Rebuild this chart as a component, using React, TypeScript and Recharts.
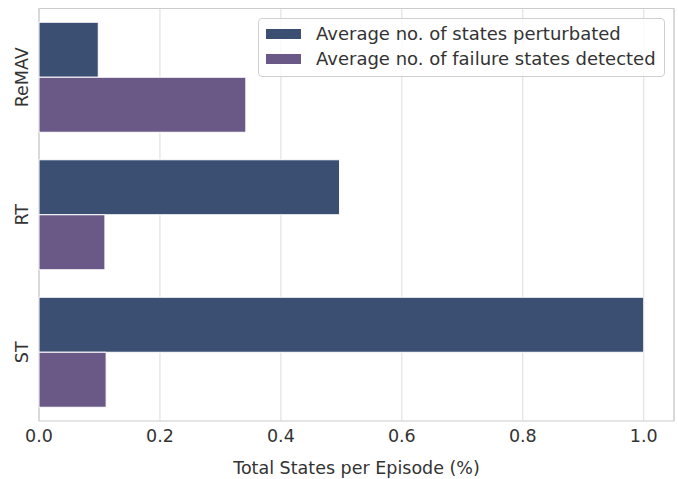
import React from 'react';
import { BarChart, Bar, XAxis, YAxis, CartesianGrid, ReferenceArea } from 'recharts';

const methods = ['ReMAV', 'RT', 'ST'];
const statesPerturbated = [0.098, 0.497, 1.0];
const failureStatesDetected = [0.342, 0.109, 0.111];
const xTicks = [0, 0.2, 0.4, 0.6, 0.8, 1.0];

const SERIES = [
  { key: 'perturbated', name: 'Average no. of states perturbated', color: '#3b4f73' },
  { key: 'failures', name: 'Average no. of failure states detected', color: '#6a5986' },
];

const FONT = '"DejaVu Sans", sans-serif';
const TEXT = '#333333';
const FS = 17.5;
const LEGEND_FS = 18;

const data = methods.map((m, i) => ({
  method: m,
  perturbated: statesPerturbated[i],
  failures: failureStatesDetected[i],
}));

const XTick = (props: any) => {
  const { x, y, payload } = props;
  return (
    <text x={x} y={y + 13} textAnchor="middle" fontSize={FS} fill={TEXT} fontFamily={FONT}>
      {Number(payload.value).toFixed(1)}
    </text>
  );
};

const YTick = (props: any) => {
  const { y, payload } = props;
  return (
    <text
      x={22}
      y={y}
      transform={`rotate(-90, 22, ${y})`}
      textAnchor="middle"
      dominantBaseline="central"
      fontSize={FS}
      fill={TEXT}
      fontFamily={FONT}
    >
      {payload.value}
    </text>
  );
};

// legend drawn outside the chart so it doesn't shrink the plot
const LegendBox = () => (
  <div
    style={{
      position: 'absolute',
      left: 258,
      top: 18,
      width: 407,
      height: 59,
      boxSizing: 'border-box',
      border: '1px solid #d0d0d0',
      borderRadius: 4,
      background: 'rgba(255,255,255,0.8)',
      padding: '2px 0 0 7px',
      fontFamily: FONT,
      fontSize: LEGEND_FS,
      color: TEXT,
    }}
  >
    {SERIES.map(s => (
      <div key={s.key} style={{ display: 'flex', alignItems: 'center', height: 25, whiteSpace: 'nowrap' }}>
        <span style={{ display: 'inline-block', width: 35, height: 10, background: s.color, marginRight: 15 }} />
        <span>{s.name}</span>
      </div>
    ))}
  </div>
);

export default function App() {
  return (
    <div style={{ position: 'relative', width: 678, height: 479, background: '#fff' }}>
      <style>{'body{margin:0}'}</style>
      <BarChart
        width={678}
        height={479}
        data={data}
        layout="vertical"
        margin={{ top: 8.5, right: 4, bottom: 0, left: 0 }}
        barCategoryGap="10%"
        barGap={0}
      >
        <CartesianGrid horizontal={false} stroke="#dcdcdc" strokeWidth={1} />
        <XAxis
          type="number"
          domain={[0, 1.05]}
          ticks={xTicks}
          height={58}
          tick={XTick}
          tickLine={false}
          axisLine={false}
          label={{
            value: 'Total States per Episode (%)',
            position: 'insideBottom',
            offset: 5,
            fontSize: FS,
            fill: TEXT,
            fontFamily: FONT,
          }}
        />
        <YAxis
          type="category"
          dataKey="method"
          width={39}
          tick={YTick}
          tickLine={false}
          axisLine={false}
        />
        <ReferenceArea x1={0} x2={1.05} fill="none" stroke="#cccccc" strokeWidth={1.2} ifOverflow="visible" />
        {SERIES.map(s => (
          <Bar
            key={s.key}
            dataKey={s.key}
            name={s.name}
            fill={s.color}
            stroke="#ffffff"
            strokeWidth={1}
            isAnimationActive={false}
          />
        ))}
      </BarChart>
      <LegendBox />
    </div>
  );
}
